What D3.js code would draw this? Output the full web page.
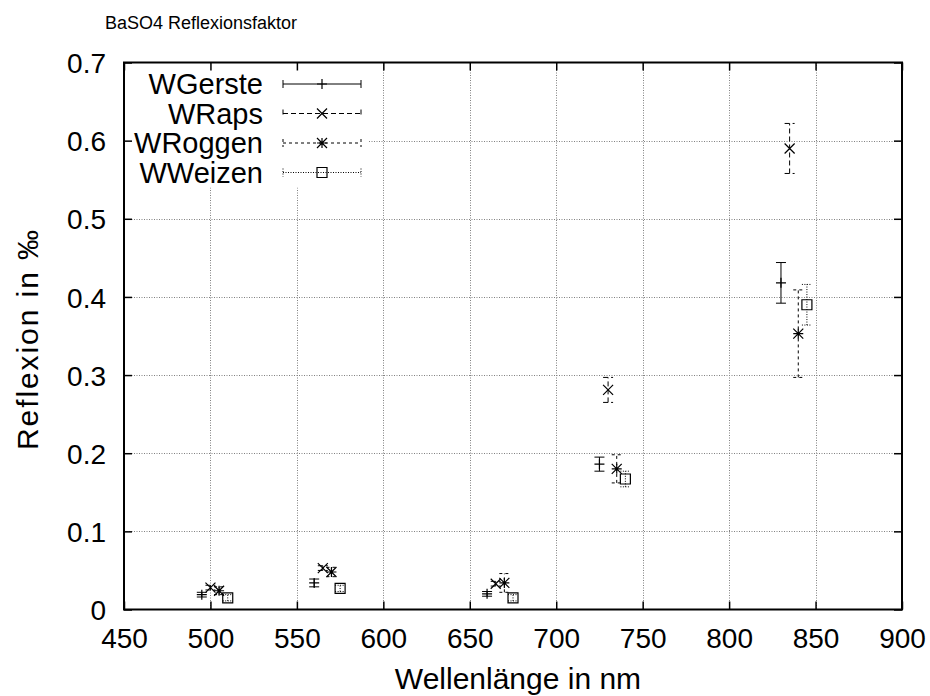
<!DOCTYPE html>
<html>
<head>
<meta charset="utf-8">
<script src="https://cdn.jsdelivr.net/npm/d3@7"></script>
<style>
  html, body { margin: 0; padding: 0; background: #fff; }
  svg text { font-family: "Liberation Sans", Arial, Helvetica, sans-serif; fill: #000; }
</style>
</head>
<body>
<svg id="chart" width="930" height="696"></svg>
<script>
// Reflectance (‰) relative to BaSO4, per crop, with error half-widths
const seriesNames = ["WGerste", "WRaps", "WRoggen", "WWeizen"];

const gersteWave = [495, 560, 660, 725, 830];
const gersteVal  = [0.019, 0.034, 0.020, 0.186, 0.418];
const gersteErr  = [0.003, 0.005, 0.003, 0.009, 0.026];

const rapsWave = [500, 565, 665, 730, 835];
const rapsVal  = [0.028, 0.053, 0.033, 0.281, 0.590];
const rapsErr  = [0.003, 0.003, 0.003, 0.016, 0.032];

const roggenWave = [505, 570, 670, 735, 840];
const roggenVal  = [0.024, 0.048, 0.034, 0.180, 0.353];
const roggenErr  = [0.005, 0.006, 0.012, 0.018, 0.056];

const weizenWave = [510, 575, 675, 740, 845];
const weizenVal  = [0.015, 0.027, 0.015, 0.167, 0.390];
const weizenErr  = [0.004, 0.004, 0.004, 0.010, 0.026];

const xTicks = [450, 500, 550, 600, 650, 700, 750, 800, 850, 900];
const yTicks = [0, 0.1, 0.2, 0.3, 0.4, 0.5, 0.6, 0.7];

const titleText = "BaSO4 Reflexionsfaktor";
const xLabel = "Wellenlänge in nm";
const yLabel = "Reflexion in ‰";

const svg = d3.select("#chart");
const plotL = 124, plotR = 902, plotT = 62.5, plotB = 609.5;

const x = d3.scaleLinear().domain([450, 900]).range([plotL, plotR]);
const y = d3.scaleLinear().domain([0, 0.7]).range([plotB, plotT]);

const series = [
  { name: seriesNames[0], wave: gersteWave, val: gersteVal, err: gersteErr, dash: null,    marker: "plus" },
  { name: seriesNames[1], wave: rapsWave,   val: rapsVal,   err: rapsErr,   dash: "5,3",   marker: "cross" },
  { name: seriesNames[2], wave: roggenWave, val: roggenVal, err: roggenErr, dash: "3,3",   marker: "star" },
  { name: seriesNames[3], wave: weizenWave, val: weizenVal, err: weizenErr, dash: "1,1.5", marker: "box" }
];

// grid lines (dotted) at inner ticks
const grid = svg.append("g").attr("stroke", "#808080").attr("stroke-width", 1)
  .attr("stroke-dasharray", "1,1.5").attr("fill", "none");
grid.selectAll("line.gx").data(xTicks.slice(1, -1)).join("line").attr("class", "gx")
  .attr("x1", d => Math.round(x(d)) + 0.5).attr("x2", d => Math.round(x(d)) + 0.5)
  .attr("y1", plotT).attr("y2", plotB);
grid.selectAll("line.gy").data(yTicks.slice(1, -1)).join("line").attr("class", "gy")
  .attr("y1", d => Math.round(y(d)) + 0.5).attr("y2", d => Math.round(y(d)) + 0.5)
  .attr("x1", plotL).attr("x2", plotR);

// legend background hides grid behind the key
svg.append("rect").attr("x", plotL + 1).attr("y", plotT + 1)
  .attr("width", 244).attr("height", 124).attr("fill", "#fff");

// axes with mirrored ticks
const tickLen = 8, tickFont = 28;
const axB = svg.append("g").attr("transform", `translate(0,${plotB})`)
  .call(d3.axisBottom(x).tickValues(xTicks).tickSizeInner(-tickLen).tickSizeOuter(0).tickPadding(19).tickFormat(d3.format("d")));
const axT = svg.append("g").attr("transform", `translate(0,${plotT})`)
  .call(d3.axisTop(x).tickValues(xTicks).tickSizeInner(-tickLen).tickSizeOuter(0).tickFormat(""));
const axL = svg.append("g").attr("transform", `translate(${plotL},0)`)
  .call(d3.axisLeft(y).tickValues(yTicks).tickSizeInner(-tickLen).tickSizeOuter(0).tickPadding(18)
    .tickFormat(d => d === 0 ? "0" : d3.format(".1f")(d)));
const axR = svg.append("g").attr("transform", `translate(${plotR},0)`)
  .call(d3.axisRight(y).tickValues(yTicks).tickSizeInner(-tickLen).tickSizeOuter(0).tickFormat(""));
[axB, axT, axL, axR].forEach(a => {
  a.select(".domain").remove();
  a.selectAll(".tick line").attr("stroke", "#000").attr("stroke-width", 1.5);
  a.selectAll("text").attr("font-size", tickFont).attr("fill", "#000")
    .attr("font-family", "'Liberation Sans', Arial, sans-serif");
});
axB.selectAll("text").attr("dy", "0.71em");
axL.selectAll("text").attr("dy", "0.36em");

// border
svg.append("rect").attr("x", plotL).attr("y", plotT)
  .attr("width", plotR - plotL).attr("height", plotB - plotT)
  .attr("fill", "none").attr("stroke", "#000").attr("stroke-width", 2);

// marker drawing
function drawMarker(g, type, cx, cy) {
  const s = 5;
  const p = g.append("path").attr("fill", "none").attr("stroke", "#000").attr("stroke-width", 1.2);
  const plus = `M${cx - s},${cy}H${cx + s}M${cx},${cy - s}V${cy + s}`;
  const cross = `M${cx - s},${cy - s}L${cx + s},${cy + s}M${cx - s},${cy + s}L${cx + s},${cy - s}`;
  if (type === "plus") p.attr("d", plus);
  else if (type === "cross") p.attr("d", cross);
  else if (type === "star") p.attr("d", plus + cross);
  else if (type === "box") p.attr("d", `M${cx - s},${cy - s}h${2 * s}v${2 * s}h${-2 * s}Z`);
}

// error bars and points
const cap = 5;
series.forEach(s => {
  const g = svg.append("g");
  s.wave.forEach((w, i) => {
    const cx = x(w), lo = y(s.val[i] - s.err[i]), hi = y(s.val[i] + s.err[i]);
    const eb = g.append("path").attr("fill", "none").attr("stroke", "#000").attr("stroke-width", 1)
      .attr("d", `M${cx},${lo}V${hi}M${cx - cap},${lo}H${cx + cap}M${cx - cap},${hi}H${cx + cap}`);
    if (s.dash) eb.attr("stroke-dasharray", s.dash);
    drawMarker(g, s.marker, cx, y(s.val[i]));
  });
});

// key
const keyTextX = 263, keyLineX1 = 283, keyLineX2 = 361, keyY0 = 84, keyDY = 29.5;
series.forEach((s, i) => {
  const ky = keyY0 + i * keyDY;
  svg.append("text").attr("x", keyTextX).attr("y", ky).attr("dy", "0.36em")
    .attr("text-anchor", "end").attr("font-size", 29).text(s.name);
  const kl = svg.append("path").attr("fill", "none").attr("stroke", "#000").attr("stroke-width", 1)
    .attr("d", `M${keyLineX1},${ky}H${keyLineX2}M${keyLineX1},${ky - 4}V${ky + 4}M${keyLineX2},${ky - 4}V${ky + 4}`);
  if (s.dash) kl.attr("stroke-dasharray", s.dash);
  drawMarker(svg, s.marker, (keyLineX1 + keyLineX2) / 2, ky);
});

// titles
svg.append("text").attr("x", 105).attr("y", 29).attr("font-size", 18).text(titleText);
svg.append("text").attr("x", 518).attr("y", 689)
  .attr("text-anchor", "middle").attr("font-size", 30).text(xLabel);
svg.append("text").attr("transform", "translate(38,340) rotate(-90)")
  .attr("text-anchor", "middle").attr("font-size", 30)
  .attr("textLength", 220).attr("lengthAdjust", "spacing").text(yLabel);
</script>
</body>
</html>
